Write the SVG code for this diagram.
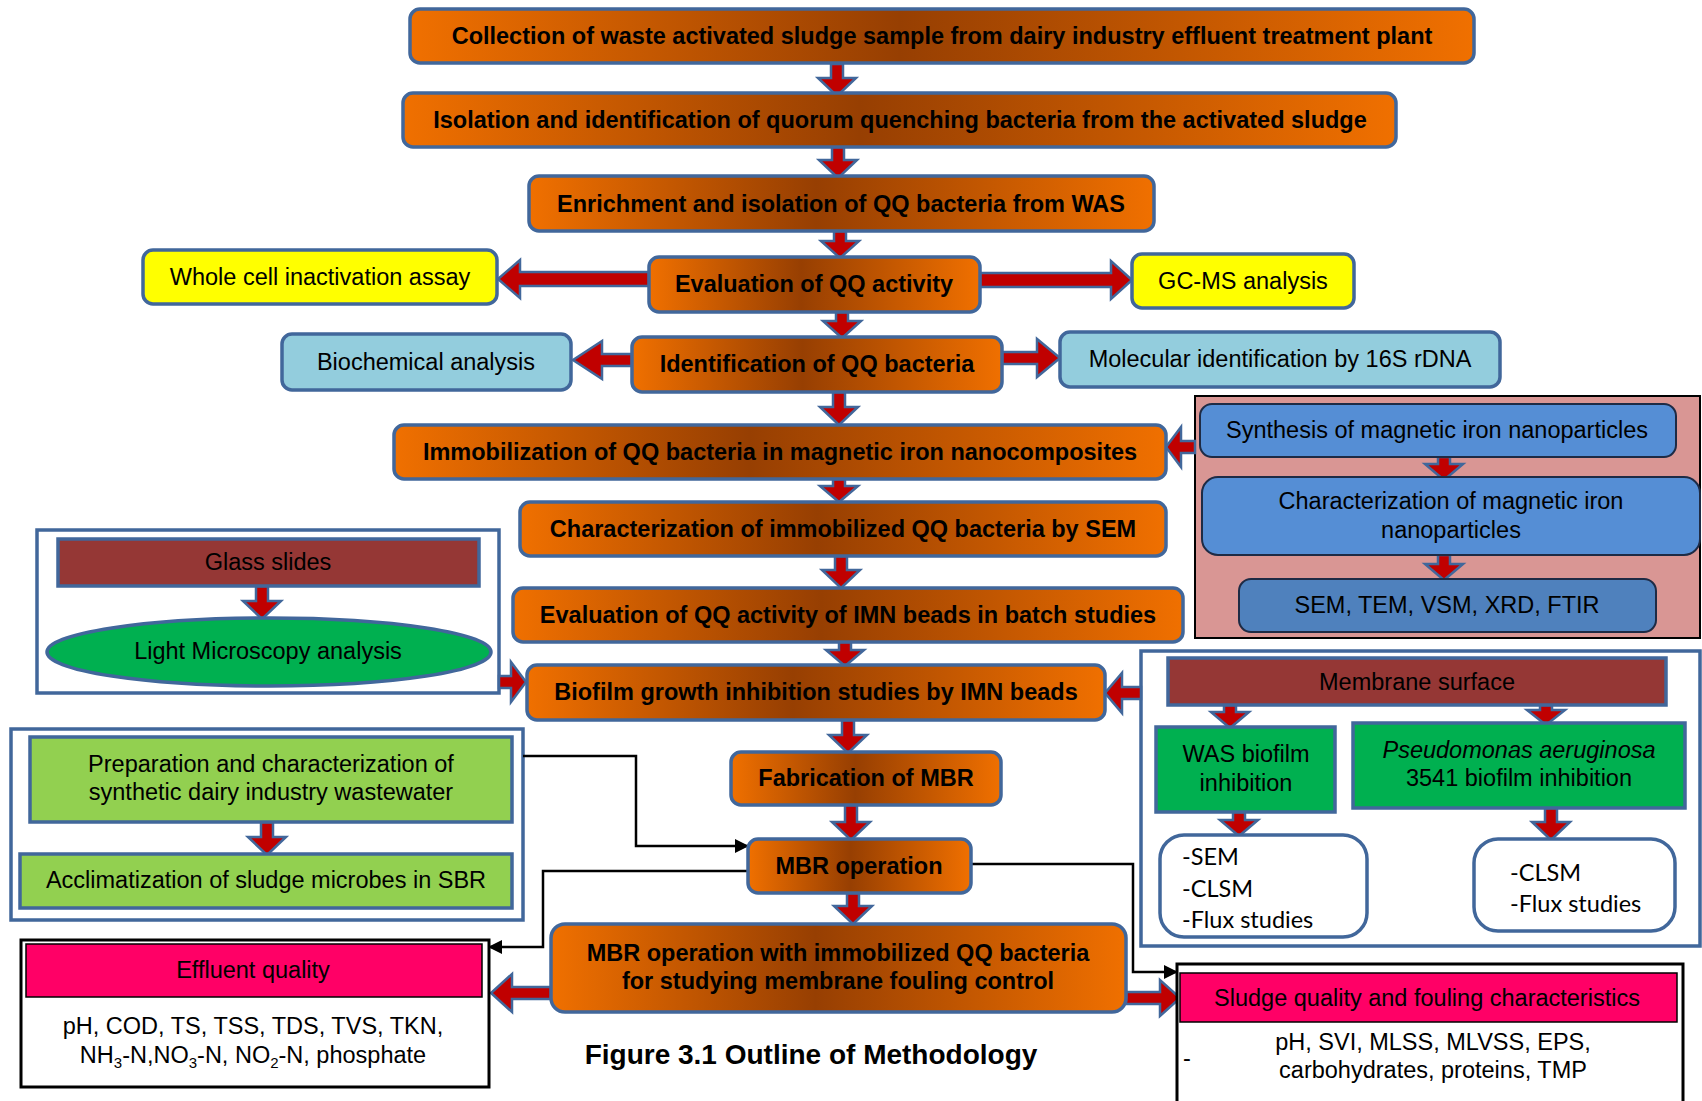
<svg xmlns="http://www.w3.org/2000/svg" width="1702" height="1101" viewBox="0 0 1702 1101">
<defs>
<linearGradient id="og" x1="0" y1="0" x2="1" y2="0">
<stop offset="0" stop-color="#F07000"/>
<stop offset="0.46" stop-color="#973F02"/>
<stop offset="1" stop-color="#F07000"/>
</linearGradient>
<marker id="tri" markerUnits="userSpaceOnUse" markerWidth="14" markerHeight="14" refX="13" refY="7" orient="auto">
<path d="M0,0 L14,7 L0,14 Z" fill="#000"/>
</marker>
<style>
.ob{fill:url(#og);stroke:#41679B;stroke-width:3.5}
.bb{stroke:#41679B;stroke-width:3.5}
.tb{font-family:"Liberation Sans",Arial,sans-serif;font-weight:bold;font-size:23.5px;fill:#000;text-anchor:middle}
.tr{font-family:"Liberation Sans",Arial,sans-serif;font-size:23.5px;fill:#000;text-anchor:middle}
.tc{font-family:Lato,"Liberation Sans",sans-serif;font-size:23.5px;fill:#000}
.ar{fill:#C00000;stroke:#41679B;stroke-width:2.5}
.ln{fill:none;stroke:#000;stroke-width:2.5;marker-end:url(#tri)}
</style>
</defs>

<!-- containers -->
<g id="pink-container"><rect x="1195" y="396" width="505" height="242" fill="#D99694" stroke="#000" stroke-width="2"/></g>
<g id="left-top-container"><rect x="37" y="530" width="462" height="163" fill="#fff" class="bb"/></g>
<g id="left-bottom-container"><rect x="11" y="729" width="512" height="191" fill="#fff" class="bb"/></g>
<g id="right-container"><rect x="1141" y="651" width="559" height="295" fill="#fff" class="bb"/></g>

<!-- connectors -->
<g id="connectors">
<path class="ln" d="M523 756 H636 V846 H748"/>
<path class="ln" d="M748 871 H543 V947 H489"/>
<path class="ln" d="M971 864 H1133 V972 H1177"/>
<!-- down arrows -->
<path class="ar" d="M831 64 H843 V78 H856 L837 96 L818 78 H831 Z"/>
<path class="ar" d="M832 147 H844 V160 H857 L838 178 L819 160 H832 Z"/>
<path class="ar" d="M834 231 H846 V241 H859 L840 258 L821 241 H834 Z"/>
<path class="ar" d="M836 312 H848 V321 H861 L842 338 L823 321 H836 Z"/>
<path class="ar" d="M833 392 H845 V407 H858 L839 425 L820 407 H833 Z"/>
<path class="ar" d="M833 479 H845 V486 H858 L839 502 L820 486 H833 Z"/>
<path class="ar" d="M835 556 H847 V570 H860 L841 588 L822 570 H835 Z"/>
<path class="ar" d="M839 642 H851 V650 H864 L845 666 L826 650 H839 Z"/>
<path class="ar" d="M842 720 H854 V735 H867 L848 753 L829 735 H842 Z"/>
<path class="ar" d="M845 805 H857 V822 H870 L851 840 L832 822 H845 Z"/>
<path class="ar" d="M847 893 H859 V906 H872 L853 924 L834 906 H847 Z"/>
<path class="ar" d="M256 586 H268 V601 H281 L262 619 L243 601 H256 Z"/>
<path class="ar" d="M261 822 H273 V837 H286 L267 855 L248 837 H261 Z"/>
<path class="ar" d="M1438 457 H1450 V464 H1463 L1444 480 L1425 464 H1438 Z"/>
<path class="ar" d="M1438 555 H1450 V564 H1463 L1444 580 L1425 564 H1438 Z"/>
<path class="ar" d="M1224 705 H1236 V712 H1249 L1230 728 L1211 712 H1224 Z"/>
<path class="ar" d="M1540 705 H1552 V710 H1565 L1546 725 L1527 710 H1540 Z"/>
<path class="ar" d="M1233 812 H1245 V820 H1258 L1239 836 L1220 820 H1233 Z"/>
<path class="ar" d="M1545 808 H1557 V822 H1570 L1551 840 L1532 822 H1545 Z"/>
<!-- horizontal arrows -->
<path class="ar" d="M649 272 H520 V260 L498 279 L520 298 V286 H649 Z"/>
<path class="ar" d="M980 273 H1111 V261 L1132 280 L1111 299 V287 H980 Z"/>
<path class="ar" d="M632 354 H602 V341 L573 360 L602 379 V366 H632 Z"/>
<path class="ar" d="M1002 352 H1037 V339 L1060 358 L1037 377 V364 H1002 Z"/>
<path class="ar" d="M1195 441 H1181 V427 L1166 447 L1181 467 V453 H1195 Z"/>
<path class="ar" d="M499 676 H511 V662 L526 682 L511 702 V688 H499 Z"/>
<path class="ar" d="M1141 687 H1122 V673 L1105 693 L1122 713 V699 H1141 Z"/>
<path class="ar" d="M551 987 H512 V974 L491 993 L512 1012 V999 H551 Z"/>
<path class="ar" d="M1126 992 H1160 V980 L1180 998 L1160 1016 V1004 H1126 Z"/>
</g>

<!-- main flow -->
<g id="n1"><rect class="ob" x="410" y="9" width="1064" height="54" rx="10"/><text class="tb" x="942" y="44">Collection of waste activated sludge sample from dairy industry effluent treatment plant</text></g>
<g id="n2"><rect class="ob" x="403" y="93" width="993" height="54" rx="10"/><text class="tb" x="900" y="128">Isolation and identification of quorum quenching bacteria from the activated sludge</text></g>
<g id="n3"><rect class="ob" x="529" y="176" width="625" height="55" rx="10"/><text class="tb" x="841" y="212">Enrichment and isolation of QQ bacteria from WAS</text></g>
<g id="n4"><rect class="ob" x="649" y="257" width="331" height="55" rx="10"/><text class="tb" x="814" y="292">Evaluation of QQ activity</text></g>
<g id="n5"><rect class="ob" x="632" y="337" width="370" height="55" rx="10"/><text class="tb" x="817" y="372">Identification of QQ bacteria</text></g>
<g id="n6"><rect class="ob" x="394" y="425" width="772" height="54" rx="10"/><text class="tb" x="780" y="460">Immobilization of QQ bacteria in magnetic iron nanocomposites</text></g>
<g id="n7"><rect class="ob" x="520" y="502" width="646" height="54" rx="10"/><text class="tb" x="843" y="537">Characterization of immobilized QQ bacteria by SEM</text></g>
<g id="n8"><rect class="ob" x="513" y="588" width="670" height="54" rx="10"/><text class="tb" x="848" y="623">Evaluation of QQ activity of IMN beads in batch studies</text></g>
<g id="n9"><rect class="ob" x="527" y="665" width="578" height="55" rx="10"/><text class="tb" x="816" y="700">Biofilm growth inhibition studies by IMN beads</text></g>
<g id="n10"><rect class="ob" x="731" y="752" width="270" height="53" rx="10"/><text class="tb" x="866" y="786">Fabrication of MBR</text></g>
<g id="n11"><rect class="ob" x="748" y="839" width="223" height="54" rx="10"/><text class="tb" x="859" y="874">MBR operation</text></g>
<g id="n12"><rect class="ob" x="551" y="924" width="575" height="88" rx="14"/><text class="tb" x="838" y="961">MBR operation with immobilized QQ bacteria</text><text class="tb" x="838" y="989">for studying membrane fouling control</text></g>

<!-- side nodes -->
<g id="whole-cell"><rect x="143" y="250" width="354" height="54" rx="10" fill="#FFFF00" class="bb"/><text class="tr" x="320" y="285">Whole cell inactivation assay</text></g>
<g id="gcms"><rect x="1132" y="254" width="222" height="54" rx="10" fill="#FFFF00" class="bb"/><text class="tr" x="1243" y="289">GC-MS analysis</text></g>
<g id="biochemical"><rect x="282" y="334" width="289" height="56" rx="10" fill="#93CDDD" class="bb"/><text class="tr" x="426" y="370">Biochemical analysis</text></g>
<g id="molecular"><rect x="1060" y="332" width="440" height="55" rx="10" fill="#93CDDD" class="bb"/><text class="tr" x="1280" y="367">Molecular identification by 16S rDNA</text></g>

<g id="synthesis"><rect x="1200" y="404" width="476" height="53" rx="12" fill="#558ED5" stroke="#1E2B45" stroke-width="2"/><text class="tr" x="1437" y="438">Synthesis of magnetic iron nanoparticles</text></g>
<g id="char-mag"><rect x="1202" y="477" width="498" height="78" rx="16" fill="#558ED5" stroke="#1E2B45" stroke-width="2"/><text class="tr" x="1451" y="509">Characterization of magnetic iron</text><text class="tr" x="1451" y="538">nanoparticles</text></g>
<g id="sem-tem"><rect x="1239" y="579" width="417" height="53" rx="12" fill="#4F81BD" stroke="#1E2B45" stroke-width="2"/><text class="tr" x="1447" y="613">SEM, TEM, VSM, XRD, FTIR</text></g>

<g id="glass"><rect x="58" y="539" width="421" height="47" fill="#953735" class="bb"/><text class="tr" x="268" y="570">Glass slides</text></g>
<g id="light"><ellipse cx="269" cy="652" rx="222" ry="34" fill="#00B050" class="bb"/><text class="tr" x="268" y="659">Light Microscopy analysis</text></g>

<g id="prep"><rect x="30" y="737" width="482" height="85" fill="#92D050" class="bb"/><text class="tr" x="271" y="772">Preparation and characterization of</text><text class="tr" x="271" y="800">synthetic dairy industry wastewater</text></g>
<g id="accl"><rect x="20" y="854" width="492" height="54" fill="#92D050" class="bb"/><text class="tr" x="266" y="888">Acclimatization of sludge microbes in SBR</text></g>

<g id="membrane"><rect x="1168" y="658" width="498" height="47" fill="#953735" class="bb"/><text class="tr" x="1417" y="690">Membrane surface</text></g>
<g id="was"><rect x="1156" y="727" width="179" height="85" fill="#00B050" class="bb"/><text class="tr" x="1246" y="762">WAS biofilm</text><text class="tr" x="1246" y="791">inhibition</text></g>
<g id="pseudo"><rect x="1353" y="723" width="332" height="85" fill="#00B050" class="bb"/><text class="tr" x="1519" y="758" font-style="italic">Pseudomonas aeruginosa</text><text class="tr" x="1519" y="786">3541 biofilm inhibition</text></g>
<g id="was-methods"><rect x="1160" y="835" width="207" height="102" rx="24" fill="#fff" class="bb"/><text class="tc" x="1182" y="865">-SEM</text><text class="tc" x="1182" y="897">-CLSM</text><text class="tc" x="1182" y="928">-Flux studies</text></g>
<g id="pseudo-methods"><rect x="1474" y="839" width="201" height="92" rx="24" fill="#fff" class="bb"/><text class="tc" x="1510" y="881">-CLSM</text><text class="tc" x="1510" y="912">-Flux studies</text></g>

<g id="effluent"><rect x="21" y="940" width="468" height="147" fill="#fff" stroke="#000" stroke-width="3"/><rect x="26" y="944" width="456" height="53" fill="#FF0066" stroke="#000" stroke-width="1.5"/><text class="tr" x="253" y="978">Effluent quality</text><text class="tr" x="253" y="1034">pH, COD, TS, TSS, TDS, TVS, TKN,</text><text class="tr" x="253" y="1063">NH<tspan font-size="15" dy="5">3</tspan><tspan dy="-5">-N,NO</tspan><tspan font-size="15" dy="5">3</tspan><tspan dy="-5">-N, NO</tspan><tspan font-size="15" dy="5">2</tspan><tspan dy="-5">-N, phosphate</tspan></text></g>

<g id="sludge"><rect x="1177" y="964" width="506" height="150" fill="#fff" stroke="#000" stroke-width="3"/><rect x="1180" y="973" width="497" height="49" fill="#FF0066" stroke="#000" stroke-width="1.5"/><text class="tr" x="1427" y="1006">Sludge quality and fouling characteristics</text><text class="tr" x="1433" y="1050">pH, SVI, MLSS, MLVSS, EPS,</text><text class="tr" x="1433" y="1078">carbohydrates, proteins, TMP</text><text class="tr" x="1187" y="1066">-</text></g>

<text class="tb" x="811" y="1064" style="font-size:28px">Figure 3.1 Outline of Methodology</text>
</svg>
